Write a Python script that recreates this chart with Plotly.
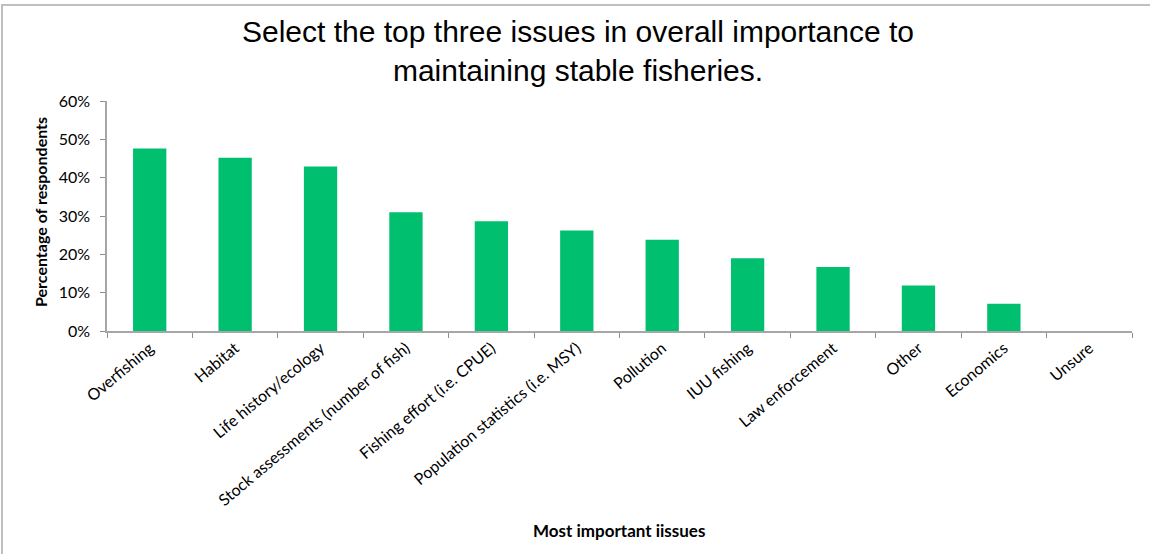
import plotly.graph_objects as go

categories = ["Overfishing", "Habitat", "Life history/ecology",
              "Stock assessments (number of fish)", "Fishing effort (i.e. CPUE)",
              "Population statistics (i.e. MSY)", "Pollution", "IUU fishing",
              "Law enforcement", "Other", "Economics", "Unsure"]
values = [0.476, 0.452, 0.429, 0.310, 0.286, 0.262, 0.238, 0.190, 0.167, 0.119, 0.071, 0.0]
y_ticks = [0, 0.1, 0.2, 0.3, 0.4, 0.5, 0.6]
y_tick_labels = ["0%", "10%", "20%", "30%", "40%", "50%", "60%"]
title_lines = ["Select the top three issues in overall importance to",
               "maintaining stable fisheries."]

W, H = 1150, 554
L, R, T, B = 107, 18, 101, 223
pw, ph = W - L - R, H - T - B

fig = go.Figure(go.Bar(
    x=categories, y=values,
    marker=dict(color="#00BF6F", line=dict(color="#C8F0DC", width=0)),
    width=0.39,
))

fig.update_layout(
    width=W, height=H,
    margin=dict(l=L, r=R, t=T, b=B),
    paper_bgcolor="white", plot_bgcolor="white",
    showlegend=False,
    font=dict(family="Lato, Calibri", size=16, color="black"),
)

fig.update_xaxes(
    type="category", tickangle=-40, tickson="boundaries",
    ticks="outside", ticklen=5, tickcolor="#8C8C8C",
    showline=True, linecolor="#A6A6A6", linewidth=1.5,
    showgrid=False, tickfont=dict(family="Lato, Calibri", size=16, color="black"),
    range=[-0.5, len(categories) - 0.5],
)
fig.update_yaxes(
    range=[0, 0.6], tickvals=y_ticks, ticktext=y_tick_labels,
    ticks="outside", ticklen=5, tickcolor="#8C8C8C",
    showline=True, linecolor="#A6A6A6", linewidth=1.5,
    showgrid=False, zeroline=False, ticklabelstandoff=7,
    tickfont=dict(family="Lato, Calibri", size=16, color="black"),
)

def px_x(p):
    return (p - L) / pw

def px_y(p):
    return (H - B - p) / ph

fig.add_annotation(
    text="<br>".join(title_lines), xref="paper", yref="paper",
    x=px_x(578), y=px_y(51),
    showarrow=False, xanchor="center", yanchor="middle", align="center",
    font=dict(family="Liberation Sans, Arial", size=30, color="black"),
)

fig.add_annotation(
    text="<b>Percentage of respondents</b>", textangle=-90,
    xref="paper", yref="paper", x=px_x(40), y=px_y(212),
    showarrow=False, xanchor="center", yanchor="middle",
    font=dict(family="Lato, Calibri", size=16, color="black"),
)
fig.add_annotation(
    text="<b>Most important iissues</b>",
    xref="paper", yref="paper", x=px_x(619), y=px_y(530),
    showarrow=False, xanchor="center", yanchor="middle",
    font=dict(family="Lato, Calibri", size=17, color="black"),
)

# chart border (top and left edges visible)
fig.add_shape(type="rect", xref="paper", yref="paper",
              x0=px_x(2), x1=px_x(1170), y0=px_y(575), y1=px_y(5),
              line=dict(color="#BFBFBF", width=2), fillcolor="rgba(0,0,0,0)",
              layer="below")

fig.write_html("out.html", config={"displayModeBar": False},
               post_script="document.body.style.margin='0';")
